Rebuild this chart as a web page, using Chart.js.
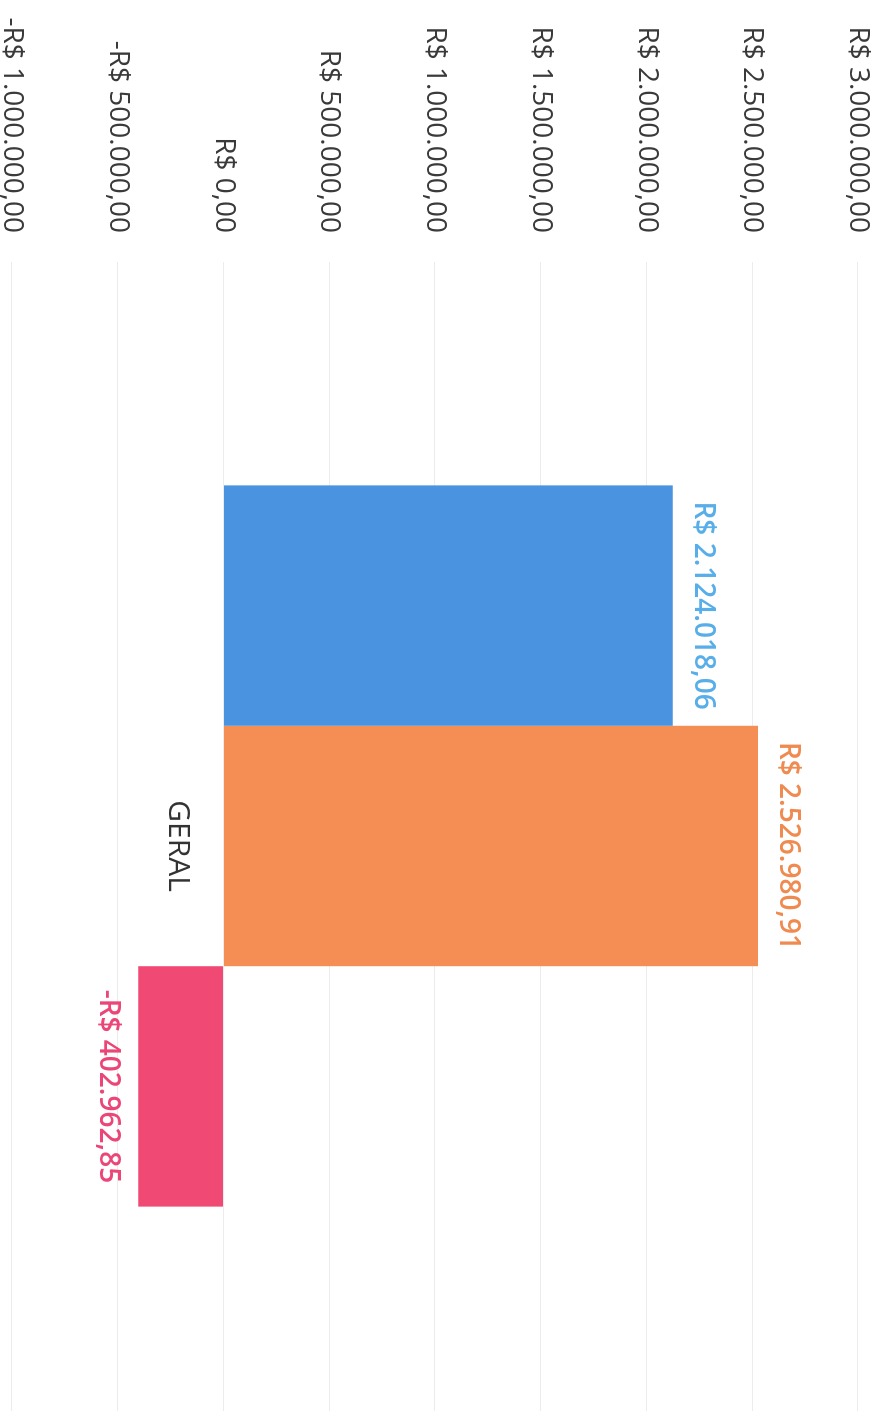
<!DOCTYPE html>
<html>
<head>
<meta charset="utf-8">
<script src="https://cdn.jsdelivr.net/npm/chart.js@4"></script>
<style>
    html, body { margin: 0; padding: 0; background: #fff; overflow: hidden; width: 886px; height: 1411px; }
    #wrap {
        position: absolute; left: 0; top: 0;
        width: 1430px; height: 886px;
        transform-origin: 0 0;
        transform: translateX(886px) rotate(90deg);
    }
</style>
</head>
<body>
<div id="wrap"><canvas id="chart" width="1430" height="886"></canvas></div>
<script>
const categories = ['GERAL'];
const seriesNames = ['Série 1', 'Série 2', 'Série 3'];
const seriesValues = [2124018.06, 2526980.91, -402962.85];
const barColors = ['#4a93e0', '#f48e55', '#f04a74'];
const labelColors = ['#58aee8', '#ef8b50', '#eb4677'];
const axisMin = -1000000;
const axisMax = 3000000;
const axisStep = 500000;

// R$ formatting, pt-BR style
function brl(v) {
    const parts = Math.abs(v).toFixed(2).split('.');
    const int = parts[0].replace(/\B(?=(\d{3})+(?!\d))/g, '.');
    return (v < 0 ? '-' : '') + 'R$ ' + int + ',' + parts[1];
}

// value labels at the end of each bar
const valueLabels = {
    id: 'valueLabels',
    afterDatasetsDraw(chart) {
        const ctx = chart.ctx;
        ctx.save();
        ctx.font = '600 28px "Open Sans"';
        ctx.textAlign = 'center';
        ctx.textBaseline = 'middle';
        chart.data.datasets.forEach((ds, i) => {
            const bar = chart.getDatasetMeta(i).data[0];
            const v = ds.data[0];
            ctx.fillStyle = labelColors[i];
            ctx.fillText(brl(v), bar.x, v >= 0 ? bar.y - 30 : bar.y + 30);
        });
        ctx.restore();
    }
};

new Chart(document.querySelector('#chart').getContext('2d'), {
    type: 'bar',
    data: {
        labels: categories,
        datasets: seriesNames.map((name, i) => ({
            label: name,
            data: [seriesValues[i]],
            backgroundColor: barColors[i],
            categoryPercentage: 0.6175,
            barPercentage: 1
        }))
    },
    options: {
        responsive: false,
        animation: false,
        layout: { padding: { top: 28, bottom: 12, left: 0, right: 0 } },
        plugins: { legend: { display: false }, tooltip: { enabled: false } },
        scales: {
            x: {
                position: { y: 0 },
                grid: { display: false },
                border: { display: false },
                ticks: { color: '#333', font: { family: 'Open Sans', size: 30 }, padding: 20 },
                afterFit: s => { s.height = 0; }
            },
            y: {
                min: axisMin,
                max: axisMax,
                ticks: {
                    stepSize: axisStep,
                    callback: v => brl(v),
                    color: '#3a3a3a',
                    font: { family: 'Open Sans', size: 28 },
                    padding: 29
                },
                grid: { color: '#ececec', drawTicks: false },
                border: { display: false },
                afterFit: s => { s.width = 262; s.paddingTop = 0; s.paddingBottom = 0; }
            }
        }
    },
    plugins: [valueLabels]
});
</script>
</body>
</html>
